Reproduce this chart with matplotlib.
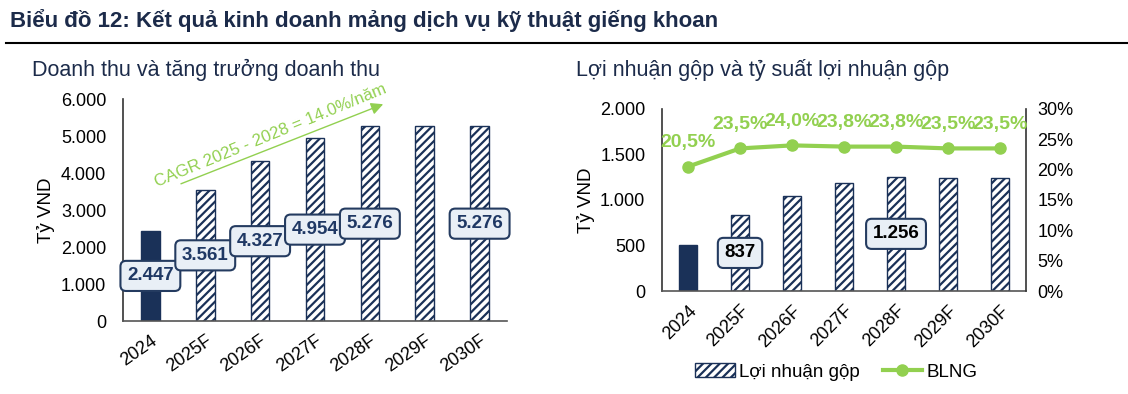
import matplotlib.pyplot as plt
from matplotlib.patches import Patch
from matplotlib.lines import Line2D

# data
years = ['2024', '2025F', '2026F', '2027F', '2028F', '2029F', '2030F']
revenue = [2447, 3561, 4327, 4954, 5276, 5276, 5276]
rev_labelled = [0, 1, 2, 3, 4, 6]
gross_profit = [505, 837, 1044, 1183, 1256, 1245, 1245]
gp_labelled = [1, 4]
margin = [20.5, 23.5, 24.0, 23.8, 23.8, 23.5, 23.5]

navy = '#1a3158'
green = '#92d050'
box_face = '#e9eff6'
box_edge = '#243b60'
title_col = '#1c2b4a'

plt.rcParams['font.family'] = ['Liberation Sans', 'DejaVu Sans']
plt.rcParams['hatch.linewidth'] = 1.6


def vn_num(v):
    return f"{v:,.0f}".replace(',', '.')


def draw_bars(ax, values):
    x = list(range(len(values)))
    ax.bar(x[:1], values[:1], width=0.34, color=navy, edgecolor=navy, zorder=2)
    ax.bar(x[1:], values[1:], width=0.34, color='white', edgecolor=navy,
           hatch='////', linewidth=1.0, zorder=2)
    ax.set_xlim(-0.5, len(values) - 0.5)


def style_axes(ax, rot):
    for s in ['top', 'right']:
        ax.spines[s].set_visible(False)
    ax.spines['left'].set_color('#333333')
    ax.spines['bottom'].set_color('#555555')
    ax.spines['left'].set_linewidth(1.2)
    ax.spines['bottom'].set_linewidth(1.2)
    ax.tick_params(axis='y', length=0, labelsize=13, pad=12)
    ax.tick_params(axis='x', length=0, labelsize=13, pad=8)
    ax.set_xticks(range(len(years)))
    ax.set_xticklabels(years, rotation=rot, ha='right', rotation_mode='anchor')


fig = plt.figure(figsize=(11.28, 3.94), dpi=100)

# header
fig.text(0.009, 0.948, 'Biểu đồ 12: Kết quả kinh doanh mảng dịch vụ kỹ thuật giếng khoan',
         fontsize=16, fontweight='bold', color=title_col, va='center')
fig.add_artist(Line2D([0.005, 1.0], [0.891, 0.891], color='black', lw=1.5))

fig.text(0.028, 0.822, 'Doanh thu và tăng trưởng doanh thu', fontsize=15.5,
         color=title_col, va='center')
fig.text(0.511, 0.822, 'Lợi nhuận gộp và tỷ suất lợi nhuận gộp', fontsize=15.5,
         color=title_col, va='center')

# left chart
ax1 = fig.add_axes([0.109, 0.185, 0.3405, 0.5625])
draw_bars(ax1, revenue)
ax1.set_ylim(0, 6000)
ax1.set_yticks(range(0, 6001, 1000))
ax1.set_yticklabels([vn_num(v) for v in range(0, 6001, 1000)])
style_axes(ax1, 35)
ax1.set_ylabel('Tỷ VND', fontsize=13.5, labelpad=4)
for i in rev_labelled:
    ax1.text(i, revenue[i] / 2, vn_num(revenue[i]), ha='center', va='center',
             fontsize=13.5, fontweight='bold', color='#1f3864', zorder=5,
             bbox=dict(boxstyle='round,pad=0.35,rounding_size=0.3', fc=box_face,
                       ec=box_edge, lw=1.5))
ax1.annotate('', xy=(4.29, 5900), xytext=(0.51, 3690),
             arrowprops=dict(arrowstyle='-|>', color=green, lw=1.0,
                             mutation_scale=18), annotation_clip=False)
ax1.text(0.12, 3640, 'CAGR 2025 - 2028 = 14.0%/năm', color=green, fontsize=12.2,
         rotation=22.3, rotation_mode='anchor', ha='left', va='baseline')

# right chart
ax2 = fig.add_axes([0.5869, 0.2614, 0.3227, 0.462])
draw_bars(ax2, gross_profit)
ax2.set_ylim(0, 2000)
ax2.set_yticks(range(0, 2001, 500))
ax2.set_yticklabels([vn_num(v) for v in range(0, 2001, 500)])
style_axes(ax2, 45)
ax2.set_ylabel('Tỷ VND', fontsize=13.5, labelpad=4)
for i in gp_labelled:
    ax2.text(i, gross_profit[i] / 2, vn_num(gross_profit[i]), ha='center', va='center',
             fontsize=13.5, fontweight='bold', color='black', zorder=5,
             bbox=dict(boxstyle='round,pad=0.35,rounding_size=0.3', fc=box_face,
                       ec=box_edge, lw=1.5))

ax3 = ax2.twinx()
ax3.plot(range(len(margin)), margin, color=green, lw=3, marker='o', markersize=8, zorder=4)
ax3.set_ylim(0, 30)
ax3.set_yticks(range(0, 31, 5))
ax3.set_yticklabels([f'{v}%' for v in range(0, 31, 5)])
ax3.tick_params(length=0, labelsize=13, pad=8)
for s in ['top', 'left', 'bottom']:
    ax3.spines[s].set_visible(False)
ax3.spines['right'].set_color('#333333')
ax3.spines['right'].set_linewidth(1.2)
for i, m in enumerate(margin):
    ax3.text(i, m + 3.9, f'{m:.1f}%'.replace('.', ','), ha='center', va='center',
             fontsize=14, fontweight='bold', color=green)

handles = [Patch(facecolor='white', edgecolor=navy, hatch='////', label='Lợi nhuận gộp'),
           Line2D([0], [0], color=green, lw=3, marker='o', markersize=8, label='BLNG')]
ax2.legend(handles=handles, loc='center', bbox_to_anchor=(0.479, -0.445), ncol=2,
           frameon=False, fontsize=13.5, handlelength=2.1, handletextpad=0.25,
           columnspacing=1.2)

fig.savefig('out.png', dpi=100)
